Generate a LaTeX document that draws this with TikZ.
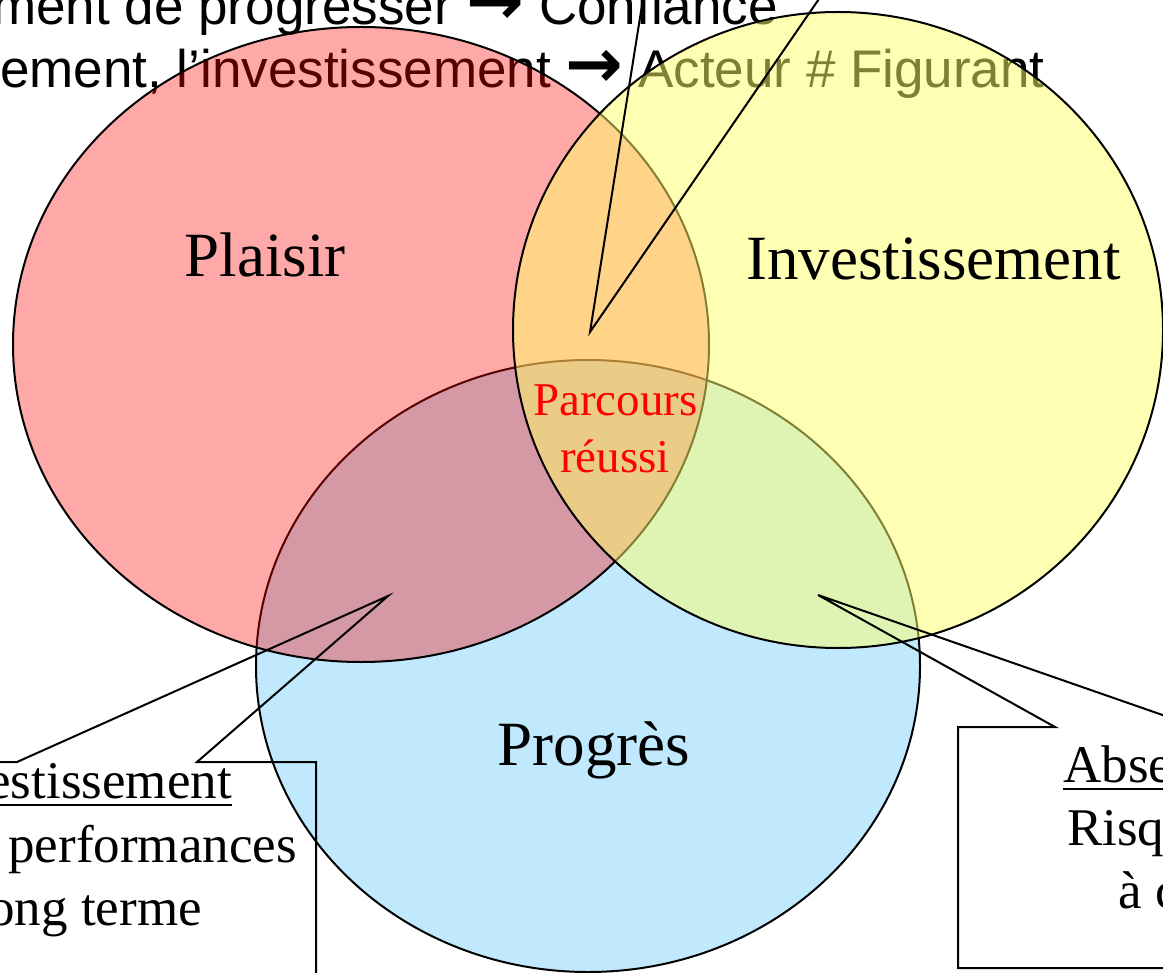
\documentclass[tikz,border=0pt]{standalone}
\usepackage{fontspec}
\setmainfont{Liberation Serif}
\newfontfamily\arialf{Liberation Sans}
\newfontfamily\arrowf{DejaVu Sans}
\definecolor{bluefill}{RGB}{192,233,253}
\definecolor{yelfill}{RGB}{255,255,105}
\newcommand{\bigarrow}{\scalebox{1.3}{\arrowf\bfseries →}}
\begin{document}
\begin{tikzpicture}[x=0.75pt,y=-0.75pt,
  outl/.style={draw=black,line width=1.5pt},
  callout/.style={draw=black,line width=1.5pt,line join=miter},
  biglab/.style={inner sep=0pt,anchor=base,font=\fontsize{47.25pt}{57pt}\selectfont},
  redlab/.style={inner sep=0pt,anchor=base,text=red,font=\fontsize{35.25pt}{42pt}\selectfont},
  boxtxt/.style={inner sep=0pt,font=\fontsize{39.75pt}{47pt}\selectfont},
  toptxt/.style={inner sep=0pt,anchor=base east,font=\arialf\fontsize{39.75pt}{47pt}\selectfont},
  uline/.style={line width=1.75pt}]
\useasboundingbox (0,0) rectangle (1163,973);
\clip (0,0) rectangle (1163,973);

% top callout text (lies under the circles)
\node[toptxt] (top1) at (778,25) {ment de progresser \bigarrow\ Confiance};
\node[toptxt] (top2) at (1045,88) {ement, l’investissement \bigarrow\ Acteur \# Figurant};

% circles
\draw[outl,fill=bluefill] (588,666) ellipse [x radius=249pt, y radius=229.5pt];
\draw[outl,fill=red,fill opacity=0.34] (361,344.5) ellipse [x radius=261pt, y radius=238.125pt];
\draw[outl,fill=yelfill,fill opacity=0.5] (838,330) ellipse [x radius=243.75pt, y radius=238.5pt];

% labels
\node[biglab] (plaisir) at (265,277) {Plaisir};
\node[biglab] (invest) at (933.5,280) {Investissement};
\node[biglab] (progres) at (594,765) {Progrès};
\node[redlab] (parc1) at (615.5,415) {Parcours};
\node[redlab] (parc2) at (615,472) {réussi};

% top callout
\coordinate (tipT) at (590,332);
\coordinate (tT1) at (646,-20);
\coordinate (tT2) at (832,-20);
\draw[callout] (tT1) -- (tipT) -- (tT2);

% bottom-left callout
\coordinate (tipL) at (388,596);
\coordinate (bl0) at (-20,762);
\coordinate (bl1) at (17,762);
\coordinate (bl2) at (197,762);
\coordinate (bl3) at (316,762);
\coordinate (bl4) at (316,1000);
\draw[callout] (bl0) -- (bl1) -- (tipL) -- (bl2) -- (bl3) -- (bl4);
\node[boxtxt,anchor=base east] (l1) at (232,798) {estissement};
\draw[uline] ([yshift=-5.25pt]l1.base west) -- ([yshift=-5.25pt]l1.base east);
\node[boxtxt,anchor=base east] (l2) at (297,862) {performances};
\node[boxtxt,anchor=base east] (l3) at (202,925) {ong terme};

% bottom-right callout
\coordinate (tipR) at (818,595);
\coordinate (br0) at (1197,727);
\coordinate (br1) at (1055,727);
\coordinate (br2) at (958,727);
\coordinate (br3) at (958,968);
\coordinate (br4) at (1200,968);
\draw[callout] (br0) -- (tipR) -- (br1) -- (br2) -- (br3) -- (br4);
\node[boxtxt,anchor=base west] (r1) at (1063,782) {Abse};
\draw[uline] ([yshift=-5.25pt]r1.base west) -- ([yshift=-5.25pt]r1.base east);
\node[boxtxt,anchor=base west] (r2) at (1067,845) {Risq};
\node[boxtxt,anchor=base west] (r3) at (1118,908) {à c};
\end{tikzpicture}
\end{document}
